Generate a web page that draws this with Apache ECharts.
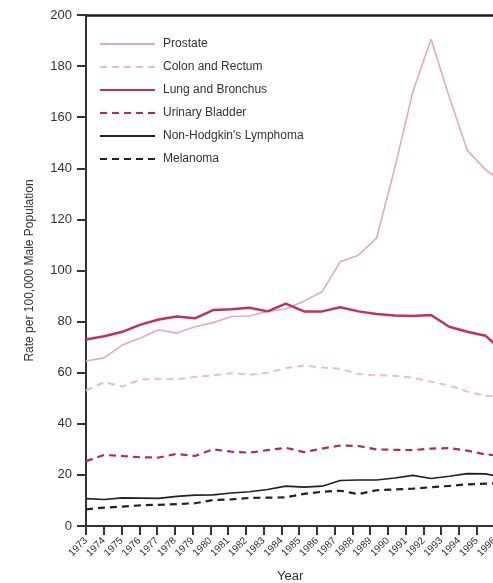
<!DOCTYPE html>
<html>
<head>
<meta charset="utf-8">
<script src="https://cdn.jsdelivr.net/npm/echarts@6/dist/echarts.min.js"></script>
<style>
  html, body { margin: 0; padding: 0; background: #fff; }
  #chart { width: 493px; height: 583px; }
</style>
</head>
<body>
<div id="chart"></div>
<script>
// tick labels on the x axis
var yearLabels = ['1973', '1974', '1975', '1976', '1977', '1978', '1979', '1980', '1981', '1982', '1983', '1984',
  '1985', '1986', '1987', '1988', '1989', '1990', '1991', '1992', '1993', '1994', '1995', '1996']
// data years (plotted on their own, slightly wider scale than the tick labels)
var years = [1973, 1974, 1975, 1976, 1977, 1978, 1979, 1980, 1981, 1982, 1983, 1984,
  1985, 1986, 1987, 1988, 1989, 1990, 1991, 1992, 1993, 1994, 1995, 1996]

var prostate = [64.6, 65.8, 70.8, 73.6, 76.8, 75.5, 78, 79.6, 82, 82.2, 84, 84.9,
  88, 91.7, 103.4, 106, 112.7, 140, 170, 190.5, 168, 147, 139.5, 134]
var colonRectum = [53, 56.3, 54.6, 57.3, 57.6, 57.5, 58.3, 59, 59.8, 59.2, 60, 61.8,
  62.8, 62, 61.5, 59.5, 59, 58.8, 58, 56.5, 55, 52.6, 51, 50.5]
var lungBronchus = [73, 74.3, 76, 78.8, 80.8, 82, 81.3, 84.5, 84.8, 85.4, 84, 87,
  84, 84, 85.6, 84, 83, 82.4, 82.2, 82.6, 78, 76, 74.5, 68]
var urinaryBladder = [25.4, 27.8, 27.4, 26.9, 26.8, 28.2, 27.4, 30, 29.1, 28.7, 29.7, 30.6,
  28.9, 30.3, 31.5, 31.3, 30, 29.8, 29.7, 30.3, 30.5, 29.5, 28, 27.5]
var nonHodgkin = [10.7, 10.4, 11, 10.9, 10.8, 11.6, 12.1, 12.2, 12.9, 13.4, 14.3, 15.6,
  15.2, 15.6, 17.8, 18, 18, 18.8, 19.8, 18.6, 19.5, 20.5, 20.4, 19]
var melanoma = [6.5, 7.2, 7.6, 8.1, 8.3, 8.6, 8.9, 10.2, 10.4, 11, 11.1, 11.2,
  12.6, 13.4, 13.8, 12.5, 14, 14.3, 14.6, 15.2, 15.7, 16.3, 16.6, 16.8]

var yTicks = [0, 20, 40, 60, 80, 100, 120, 140, 160, 180, 200]

var chart = echarts.init(document.getElementById('chart'))
var font = 'Liberation Sans, Arial, sans-serif'

function pairs(vals) {
  return vals.map(function (v, i) { return [years[i], v] })
}

function makeSeries(name, vals, color, width, dashed) {
  return {
    name: name,
    type: 'line',
    xAxisIndex: 1,
    symbol: 'none',
    smooth: false,
    clip: true,
    data: pairs(vals),
    itemStyle: { color: color },
    lineStyle: {
      color: color,
      width: width,
      type: dashed ? [7, 5] : 'solid'
    },
    animation: false
  }
}

chart.setOption({
  backgroundColor: '#fff',
  animation: false,
  textStyle: { fontFamily: font },
  grid: {
    left: 86,
    top: 15,
    width: 408.5,
    height: 511,
    containLabel: false,
    outerBoundsMode: 'none'
  },
  legend: {
    orient: 'vertical',
    left: 94,
    top: 33,
    itemWidth: 55,
    itemHeight: 14,
    itemGap: 11,
    itemStyle: { opacity: 0, borderWidth: 0 },
    textStyle: { fontSize: 12, color: '#333', fontFamily: font, padding: [0, 0, 0, 3] },
    data: ['Prostate', 'Colon and Rectum', 'Lung and Bronchus', 'Urinary Bladder',
      'Non-Hodgkin\'s Lymphoma', 'Melanoma']
  },
  xAxis: [{
    type: 'category',
    data: yearLabels,
    boundaryGap: false,
    name: 'Year',
    nameLocation: 'middle',
    nameGap: 44,
    nameTextStyle: { fontSize: 13, color: '#333' },
    axisLine: { lineStyle: { color: '#333', width: 2 } },
    axisTick: { length: 9, lineStyle: { color: '#333', width: 2 } },
    axisLabel: { rotate: 45, fontSize: 10, color: '#333', margin: 13, interval: 0 },
    splitLine: { show: false }
  }, {
    type: 'value',
    min: 1973,
    max: 1973 + 408.5 / 18.16,
    show: false
  }, {
    type: 'value',
    position: 'top',
    min: 0,
    max: 1,
    axisLine: { show: true, lineStyle: { color: '#222', width: 2.5 } },
    axisTick: { show: false },
    axisLabel: { show: false },
    splitLine: { show: false }
  }],
  yAxis: {
    type: 'value',
    min: yTicks[0],
    max: yTicks[yTicks.length - 1],
    interval: 20,
    name: 'Rate per 100,000 Male Population',
    nameLocation: 'middle',
    nameGap: 50,
    nameTextStyle: { fontSize: 12, color: '#333' },
    axisLine: { show: true, lineStyle: { color: '#333', width: 2 } },
    axisTick: { show: true, length: 9, lineStyle: { color: '#333', width: 2 } },
    axisLabel: { fontSize: 13, color: '#333', margin: 14 },
    splitLine: { show: false }
  },
  series: [
    makeSeries('Prostate', prostate, '#e8a9bd', 1.6, false),
    makeSeries('Colon and Rectum', colonRectum, '#ebbcc9', 2, true),
    makeSeries('Lung and Bronchus', lungBronchus, '#c2305e', 2.5, false),
    makeSeries('Urinary Bladder', urinaryBladder, '#b8285c', 2.2, true),
    makeSeries('Non-Hodgkin\'s Lymphoma', nonHodgkin, '#222', 1.6, false),
    makeSeries('Melanoma', melanoma, '#222', 2.2, true)
  ]
})
</script>
</body>
</html>
